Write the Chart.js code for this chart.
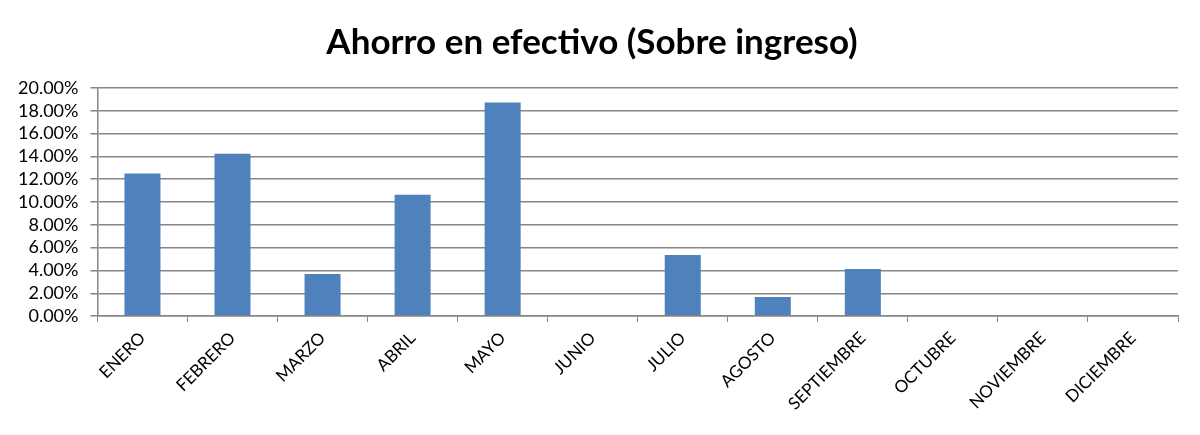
<!DOCTYPE html>
<html>
<head>
<meta charset="utf-8">
<script src="https://cdn.jsdelivr.net/npm/chart.js@4/dist/chart.umd.min.js"></script>
<style>
  html, body { margin: 0; padding: 0; background: #fff; }
  #wrap { width: 1200px; height: 435px; }
</style>
</head>
<body>
<div id="wrap"><canvas id="ahorroChart"></canvas></div>
<script>
const months = ["ENERO", "FEBRERO", "MARZO", "ABRIL", "MAYO", "JUNIO", "JULIO",
  "AGOSTO", "SEPTIEMBRE", "OCTUBRE", "NOVIEMBRE", "DICIEMBRE"];
const savings = [12.5, 14.23, 3.69, 10.63, 18.72, 0, 5.36, 1.67, 4.13, 0, 0, 0];
const title = "Ahorro en efectivo (Sobre ingreso)";

const font = "Lato, 'Open Sans', sans-serif";
const gray = "#868686";

const ctx = document.getElementById("ahorroChart").getContext("2d");
new Chart(ctx, {
  type: "bar",
  data: {
    labels: months,
    datasets: [{
      data: savings,
      backgroundColor: "#4f81bd",
      barPercentage: 0.4,
      categoryPercentage: 1
    }]
  },
  options: {
    responsive: true,
    maintainAspectRatio: false,
    animation: false,
    layout: { padding: { left: 6, right: 22, top: 10, bottom: 15 } },
    plugins: {
      legend: { display: false },
      tooltip: { enabled: false },
      title: {
        display: true,
        text: title,
        color: "#000",
        font: { family: font, size: 35, weight: "bold" },
        padding: { top: 12, bottom: 24 }
      }
    },
    scales: {
      x: {
        grid: { display: true, drawOnChartArea: false, color: gray, tickLength: 6, offset: true },
        border: { color: gray, width: 1.5 },
        ticks: {
          color: "#000",
          font: { family: font, size: 17 },
          minRotation: 45,
          maxRotation: 45,
          autoSkip: false,
          padding: 6
        }
      },
      y: {
        min: 0,
        max: 20,
        grid: { color: gray, lineWidth: 1.5, tickLength: 7 },
        border: { color: gray, width: 1.5 },
        ticks: {
          stepSize: 2,
          autoSkip: false,
          color: "#000",
          font: { family: font, size: 18 },
          padding: 12,
          callback: (v) => v.toFixed(2) + "%"
        }
      }
    }
  }
});
</script>
</body>
</html>
